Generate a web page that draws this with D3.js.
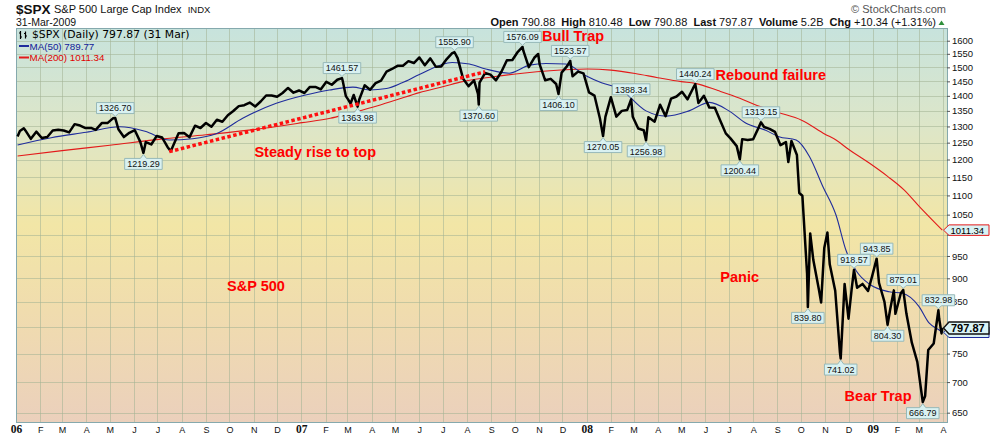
<!DOCTYPE html>
<html>
<head>
<meta charset="utf-8">
<title>$SPX S&amp;P 500 Large Cap Index</title>
<script src="https://cdn.jsdelivr.net/npm/d3@7/dist/d3.min.js"></script>
<style>
  html, body { margin: 0; padding: 0; background: #fff; }
  svg { display: block; }
  text { font-family: "Liberation Sans", Arial, sans-serif; }
</style>
</head>
<body>
<div id="chart"></div>
<script>
'use strict';

// weekly closes plus the marked turning points
var spx = [
  ['2006-01-03',1268.80],['2006-01-06',1285.45],['2006-01-11',1294.18],['2006-01-13',1287.61],
  ['2006-01-20',1261.49],['2006-01-27',1283.72],['2006-02-03',1264.03],['2006-02-10',1266.99],
  ['2006-02-17',1287.24],['2006-02-24',1289.43],['2006-03-03',1287.23],['2006-03-10',1281.42],
  ['2006-03-17',1307.25],['2006-03-24',1302.95],['2006-03-31',1294.83],['2006-04-07',1295.50],
  ['2006-04-13',1289.12],['2006-04-21',1311.28],['2006-04-28',1310.61],['2006-05-05',1325.76],
  ['2006-05-08',1326.70],['2006-05-12',1291.24],['2006-05-19',1267.03],['2006-05-26',1280.16],
  ['2006-06-02',1288.22],['2006-06-09',1252.30],['2006-06-13',1219.29],['2006-06-16',1251.54],
  ['2006-06-23',1244.50],['2006-06-30',1270.20],['2006-07-07',1265.48],['2006-07-14',1236.20],
  ['2006-07-18',1224.54],['2006-07-21',1240.29],['2006-07-28',1278.55],['2006-08-04',1279.36],
  ['2006-08-11',1266.74],['2006-08-18',1302.30],['2006-08-25',1295.09],['2006-09-01',1311.01],
  ['2006-09-08',1298.92],['2006-09-15',1321.18],['2006-09-22',1314.78],['2006-09-29',1335.85],
  ['2006-10-06',1349.59],['2006-10-13',1365.62],['2006-10-20',1368.60],['2006-10-27',1377.34],
  ['2006-11-03',1364.30],['2006-11-10',1380.90],['2006-11-17',1401.20],['2006-11-24',1400.95],
  ['2006-12-01',1396.71],['2006-12-08',1409.84],['2006-12-15',1427.09],['2006-12-22',1410.76],
  ['2006-12-29',1418.30],
  ['2007-01-05',1409.71],['2007-01-12',1430.73],['2007-01-19',1430.50],['2007-01-26',1422.18],
  ['2007-02-02',1448.39],['2007-02-09',1438.06],['2007-02-16',1455.54],['2007-02-22',1461.57],
  ['2007-02-23',1451.19],['2007-02-27',1399.04],['2007-03-02',1387.17],['2007-03-05',1374.12],
  ['2007-03-09',1402.84],['2007-03-14',1363.98],['2007-03-16',1386.95],['2007-03-23',1436.11],
  ['2007-03-30',1420.86],['2007-04-06',1443.76],['2007-04-13',1452.85],['2007-04-20',1484.35],
  ['2007-04-27',1494.07],['2007-05-04',1505.62],['2007-05-11',1505.85],['2007-05-18',1522.75],
  ['2007-05-25',1515.73],['2007-06-01',1536.34],['2007-06-08',1507.67],['2007-06-15',1532.91],
  ['2007-06-22',1502.56],['2007-06-29',1503.35],['2007-07-06',1530.44],['2007-07-13',1552.50],
  ['2007-07-16',1555.90],['2007-07-20',1534.10],['2007-07-27',1458.95],['2007-08-03',1433.06],
  ['2007-08-10',1453.64],['2007-08-15',1406.70],['2007-08-16',1370.60],['2007-08-17',1445.94],
  ['2007-08-24',1479.37],['2007-08-31',1473.99],['2007-09-07',1453.55],['2007-09-14',1484.25],
  ['2007-09-21',1525.75],['2007-09-28',1526.75],['2007-10-05',1557.59],['2007-10-11',1576.09],
  ['2007-10-12',1561.80],['2007-10-19',1500.63],['2007-10-26',1535.28],['2007-10-31',1549.38],
  ['2007-11-02',1509.65],['2007-11-09',1453.70],['2007-11-16',1458.74],['2007-11-23',1440.70],
  ['2007-11-26',1406.10],['2007-11-30',1481.14],['2007-12-07',1504.66],['2007-12-11',1523.57],
  ['2007-12-14',1467.95],['2007-12-21',1484.46],['2007-12-28',1478.49],
  ['2008-01-04',1411.63],['2008-01-11',1401.02],['2008-01-18',1325.19],['2008-01-22',1270.05],
  ['2008-01-25',1330.61],['2008-02-01',1395.42],['2008-02-08',1331.29],['2008-02-15',1349.99],
  ['2008-02-22',1353.11],['2008-02-27',1388.34],['2008-02-29',1330.63],['2008-03-07',1293.37],
  ['2008-03-14',1288.14],['2008-03-17',1256.98],['2008-03-20',1329.51],['2008-03-28',1315.22],
  ['2008-04-04',1370.40],['2008-04-11',1332.83],['2008-04-18',1390.33],['2008-04-25',1397.84],
  ['2008-05-02',1413.90],['2008-05-09',1388.28],['2008-05-16',1425.35],['2008-05-19',1440.24],
  ['2008-05-23',1375.93],['2008-05-30',1400.38],['2008-06-06',1360.68],['2008-06-13',1360.03],
  ['2008-06-20',1317.93],['2008-06-27',1278.38],['2008-07-03',1262.90],['2008-07-11',1239.49],
  ['2008-07-15',1200.44],['2008-07-18',1260.68],['2008-07-25',1257.76],['2008-08-01',1260.31],
  ['2008-08-08',1296.32],['2008-08-11',1313.15],['2008-08-15',1298.20],['2008-08-22',1292.20],
  ['2008-08-29',1282.83],['2008-09-05',1242.31],['2008-09-12',1251.70],['2008-09-15',1192.70],
  ['2008-09-19',1255.08],['2008-09-26',1213.27],['2008-09-29',1106.42],['2008-10-03',1099.23],
  ['2008-10-09',909.92],['2008-10-10',839.80],['2008-10-13',1003.35],['2008-10-17',940.55],
  ['2008-10-24',876.77],['2008-10-27',848.92],['2008-10-31',968.75],['2008-11-04',1005.75],
  ['2008-11-07',930.99],['2008-11-14',873.29],['2008-11-20',752.44],['2008-11-21',741.02],
  ['2008-11-26',887.68],['2008-12-01',816.21],['2008-12-05',876.07],['2008-12-08',918.57],
  ['2008-12-12',879.73],['2008-12-19',887.88],['2008-12-26',872.80],['2008-12-31',903.25],
  ['2009-01-06',943.85],['2009-01-09',890.35],['2009-01-16',850.12],['2009-01-20',804.30],
  ['2009-01-23',831.95],['2009-01-28',874.09],['2009-01-30',825.88],['2009-02-06',868.60],
  ['2009-02-09',875.01],['2009-02-13',826.84],['2009-02-20',770.05],['2009-02-27',735.09],
  ['2009-03-06',666.79],['2009-03-09',676.53],['2009-03-13',756.55],['2009-03-20',768.54],
  ['2009-03-26',832.98],['2009-03-27',815.94],['2009-03-30',787.53],['2009-03-31',797.87]
];

// moving averages sampled off the chart
var ma50 = [
  ['2006-01-03',1243],['2006-02-15',1265],['2006-04-01',1282],['2006-05-14',1299],
  ['2006-06-15',1285],['2006-07-16',1258],['2006-08-15',1262],['2006-09-14',1277],
  ['2006-10-18',1326],['2006-11-30',1375],['2007-01-05',1402],['2007-02-06',1420],
  ['2007-03-08',1430],['2007-03-29',1420],['2007-04-20',1425],['2007-05-10',1445],
  ['2007-06-01',1474],['2007-07-13',1518],['2007-08-04',1512],['2007-08-25',1494],
  ['2007-09-24',1479],['2007-10-20',1508],['2007-11-10',1514],['2007-12-05',1512],
  ['2007-12-31',1470],['2008-01-20',1445],['2008-02-12',1425],['2008-03-17',1350],
  ['2008-04-12',1333],['2008-05-11',1350],['2008-06-06',1378],['2008-07-01',1350],
  ['2008-07-23',1310],['2008-08-17',1288],['2008-09-03',1268],['2008-09-25',1258],
  ['2008-10-12',1209],['2008-10-29',1125],['2008-11-15',1049],['2008-11-28',962],
  ['2008-12-11',916],['2008-12-28',887],['2009-01-22',871],['2009-02-08',868],
  ['2009-03-01',841],['2009-03-14',808],['2009-03-26',795],['2009-03-31',789.77]
];

var ma200 = [
  ['2006-01-03',1210],['2006-03-01',1226],['2006-05-01',1242],['2006-07-03',1260],
  ['2006-09-01',1274],['2006-11-01',1290],['2007-01-02',1312],['2007-02-07',1326],
  ['2007-03-01',1340],['2007-04-02',1362],['2007-05-01',1385],['2007-06-01',1411],
  ['2007-07-02',1432],['2007-07-26',1449],['2007-09-04',1466],['2007-10-11',1479],
  ['2007-11-15',1488],['2008-01-02',1494],['2008-02-01',1490],['2008-03-03',1478],
  ['2008-04-01',1463],['2008-05-01',1449],['2008-05-19',1443],['2008-06-17',1418],
  ['2008-07-15',1392],['2008-08-06',1368],['2008-09-02',1345],['2008-10-02',1320],
  ['2008-11-01',1276],['2008-11-15',1258],['2008-12-01',1230],['2008-12-28',1189],
  ['2009-01-20',1152],['2009-02-10',1115],['2009-03-02',1070],['2009-03-31',1011.34]
];

// hand drawn trend line
var trendLine = [['2006-07-16',1223],['2007-08-24',1484]];

var extremes = [
  ['2006-05-08',1326.70,'high'],['2006-06-13',1219.29,'low'],
  ['2007-02-22',1461.57,'high'],['2007-03-14',1363.98,'low'],
  ['2007-07-16',1555.90,'high'],['2007-08-16',1370.60,'low'],
  ['2007-10-11',1576.09,'high'],['2007-11-26',1406.10,'low'],
  ['2007-12-11',1523.57,'high'],['2008-01-22',1270.05,'low'],
  ['2008-02-27',1388.34,'high'],['2008-03-17',1256.98,'low'],
  ['2008-05-19',1440.24,'high'],['2008-07-15',1200.44,'low'],
  ['2008-08-11',1313.15,'high'],['2008-10-10',839.80,'low'],
  ['2008-11-21',741.02,'low'],['2008-12-08',918.57,'high'],
  ['2009-01-06',943.85,'high'],['2009-01-20',804.30,'low'],
  ['2009-02-09',875.01,'high'],['2009-03-06',666.79,'low'],
  ['2009-03-26',832.98,'high']
];

// red comments, anchored at date / price of their left baseline
var notes = [
  ['Bull Trap','2007-11-05',1600],
  ['Rebound failure','2008-06-14',1455],
  ['Steady rise to top','2006-11-02',1206],
  ['S&P 500','2006-09-28',872],
  ['Panic','2008-06-20',892],
  ['Bear Trap','2008-11-26',668]
];

var yTicks = [650,700,750,800,850,900,950,1000,1050,1100,1150,1200,1250,1300,1350,1400,1450,1500,1550,1600];
var monthLetters = ['J','F','M','A','M','J','J','A','S','O','N','D'];
var yearLabels = ['06','07','08','09'];

var quote = [['Open','790.88'],['High','810.48'],['Low','790.88'],['Last','797.87'],['Volume','5.2B'],['Chg','+10.34 (+1.31%)']];
var lastClose = 797.87, lastMa50 = 789.77, lastMa200 = 1011.34;

var parse = d3.timeParse('%Y-%m-%d')
  , W = 990
  , H = 438
  , plot = {left: 16, right: 947, top: 28, bottom: 422}
  , SANS = '"Liberation Sans", Arial, sans-serif'
;

var svg = d3.select('#chart').append('svg')
    .attr('width', W)
    .attr('height', H);

var x = d3.scaleTime()
    .domain([new Date(2006, 0, 1), new Date(2009, 3, 6)])
    .range([plot.left, plot.right]);

var y = d3.scaleLog()
    .domain([635.5, 1650])
    .range([plot.bottom, plot.top]);

function toPoints(arr) {
  return arr.map(function (d) { return {date: parse(d[0]), value: d[1]}; });
}

// background gradient
var defs = svg.append('defs');
var grad = defs.append('linearGradient')
    .attr('id', 'bg')
    .attr('x1', 0).attr('y1', 0).attr('x2', 0).attr('y2', 1);
[[0, '#c7e3dd'], [0.25, '#dde6c8'], [0.5, '#f2e6a6'], [0.72, '#f0dcae'], [1, '#ebd0bc']].forEach(function (s) {
  grad.append('stop').attr('offset', s[0]).attr('stop-color', s[1]);
});
defs.append('clipPath').attr('id', 'clip')
  .append('rect')
    .attr('x', plot.left).attr('y', plot.top)
    .attr('width', plot.right - plot.left).attr('height', plot.bottom - plot.top);

svg.append('rect')
    .attr('x', plot.left).attr('y', plot.top)
    .attr('width', plot.right - plot.left).attr('height', plot.bottom - plot.top)
    .attr('fill', 'url(#bg)');

// grid
var months = d3.timeMonth.range(new Date(2006, 0, 1), new Date(2009, 3, 2));
var grid = svg.append('g')
    .attr('stroke', '#a3b393')
    .attr('stroke-opacity', 0.55)
    .attr('shape-rendering', 'crispEdges');

grid.selectAll('line.v')
    .data(months.slice(1))
    .enter().append('line')
    .attr('x1', function (d) { return Math.round(x(d)) + 0.5; })
    .attr('x2', function (d) { return Math.round(x(d)) + 0.5; })
    .attr('y1', plot.top).attr('y2', plot.bottom);

grid.selectAll('line.h')
    .data(yTicks)
    .enter().append('line')
    .attr('x1', plot.left).attr('x2', plot.right)
    .attr('y1', function (d) { return Math.round(y(d)) + 0.5; })
    .attr('y2', function (d) { return Math.round(y(d)) + 0.5; });

svg.append('rect')
    .attr('x', plot.left + 0.5).attr('y', plot.top + 0.5)
    .attr('width', plot.right - plot.left).attr('height', plot.bottom - plot.top)
    .attr('fill', 'none')
    .attr('stroke', '#85a9ad')
    .attr('shape-rendering', 'crispEdges');

// axes
var xAxis = d3.axisBottom(x)
    .tickValues(months)
    .tickSize(0)
    .tickFormat(function (d) {
      return d.getMonth() === 0 ? yearLabels[d.getFullYear() - 2006] : monthLetters[d.getMonth()];
    });

var gx = svg.append('g')
    .attr('transform', 'translate(0,' + plot.bottom + ')')
    .call(xAxis);
gx.select('.domain').remove();
gx.selectAll('text')
    .attr('y', 11)
    .attr('dy', null)
    .attr('fill', '#111')
    .style('font-family', function (d) { return d.getMonth() === 0 ? '"Liberation Serif", "Times New Roman", serif' : SANS; })
    .style('font-weight', function (d) { return d.getMonth() === 0 ? 'bold' : 'normal'; })
    .style('font-size', function (d) { return d.getMonth() === 0 ? '11.5px' : '9px'; });

// labels that sit under the price-axis flags are hidden in the original
var flagged = [lastClose, lastMa200];
var yAxis = d3.axisRight(y)
    .tickValues(yTicks)
    .tickSize(3)
    .tickPadding(2)
    .tickFormat(function (d) {
      var hidden = flagged.some(function (f) { return Math.abs(y(f) - y(d)) < 7; });
      return hidden ? '' : d3.format('d')(d);
    });

var gy = svg.append('g')
    .attr('transform', 'translate(' + plot.right + ',0)')
    .call(yAxis);
gy.select('.domain').remove();
gy.selectAll('line').attr('stroke', '#555');
gy.selectAll('text')
    .attr('fill', '#111')
    .style('font-family', SANS)
    .style('font-size', '9.5px');

// series
var line = d3.line()
    .x(function (d) { return x(d.date); })
    .y(function (d) { return y(d.value); });

var smooth = d3.line()
    .curve(d3.curveMonotoneX)
    .x(function (d) { return x(d.date); })
    .y(function (d) { return y(d.value); });

var series = svg.append('g').attr('clip-path', 'url(#clip)');

series.append('path')
    .datum(toPoints(ma200))
    .attr('d', smooth)
    .attr('fill', 'none')
    .attr('stroke', '#e31a1a')
    .attr('stroke-width', 1.1);

series.append('path')
    .datum(toPoints(ma50))
    .attr('d', smooth)
    .attr('fill', 'none')
    .attr('stroke', '#1f2c9c')
    .attr('stroke-width', 1.1);

series.append('path')
    .datum(toPoints(spx))
    .attr('d', line)
    .attr('fill', 'none')
    .attr('stroke', '#000')
    .attr('stroke-width', 2.5)
    .attr('stroke-linejoin', 'round');

series.append('path')
    .datum(toPoints(trendLine))
    .attr('d', line)
    .attr('fill', 'none')
    .attr('stroke', '#ff1010')
    .attr('stroke-width', 3.5)
    .attr('stroke-dasharray', '3.5,2.5');

// value flags above highs / below lows
var flags = svg.append('g');
extremes.forEach(function (e) {
  var cx = x(parse(e[0]))
    , vy = y(e[1])
    , up = e[2] === 'high'
    , g = flags.append('g')
    , t = g.append('text')
        .text(e[1].toFixed(2))
        .attr('text-anchor', 'middle')
        .attr('x', cx)
        .attr('fill', '#111')
        .style('font-size', '9px')
    , w = t.node().getComputedTextLength() + 5
    , top = up ? vy - 15.5 : vy + 5.5
    , bot = top + 11
    , tip = up ? vy - 1.5 : vy + 1.5
    , path
  ;
  if (up) {
    path = 'M' + (cx - w / 2) + ',' + top + 'H' + (cx + w / 2) + 'V' + bot +
      'H' + (cx + 3) + 'L' + cx + ',' + tip + 'L' + (cx - 3) + ',' + bot + 'H' + (cx - w / 2) + 'Z';
  } else {
    path = 'M' + (cx - w / 2) + ',' + top + 'H' + (cx - 3) + 'L' + cx + ',' + tip + 'L' + (cx + 3) + ',' + top +
      'H' + (cx + w / 2) + 'V' + bot + 'H' + (cx - w / 2) + 'Z';
  }
  g.insert('path', 'text')
      .attr('d', path)
      .attr('fill', '#d9f1f1')
      .attr('stroke', '#97b9b9')
      .attr('stroke-width', 1);
  t.attr('y', bot - 2.3);
});

// flags on the price axis
function axisFlag(value, label, stroke, bold) {
  var vy = y(value)
    , h = bold ? 12 : 10.5
    , g = svg.append('g');
  g.append('path')
      .attr('d', 'M943.5,' + vy + 'L949,' + (vy - h / 2) + 'H989V' + (vy + h / 2) + 'H949Z')
      .attr('fill', '#d9f3f5')
      .attr('stroke', stroke)
      .attr('stroke-width', bold ? 1.4 : 1);
  if (label) {
    g.append('text')
        .text(label)
        .attr('x', bold ? 951 : 950.5)
        .attr('y', vy + (bold ? 4 : 3.4))
        .attr('fill', '#000')
        .style('font-size', bold ? '11px' : '9.5px')
        .style('font-weight', bold ? 'bold' : 'normal');
  }
}
axisFlag(lastMa200, lastMa200.toFixed(2), '#e31a1a', false);
// the MA(50) flag sits almost fully behind the last-price flag
axisFlag(lastMa50, null, '#1f2c9c', false);
axisFlag(lastClose, lastClose.toFixed(2), '#111', true);

// red comments
svg.append('g').selectAll('text')
    .data(notes)
    .enter().append('text')
    .text(function (d) { return d[0]; })
    .attr('x', function (d) { return x(parse(d[1])); })
    .attr('y', function (d) { return y(d[2]); })
    .attr('fill', '#ff0000')
    .style('font-size', '14.5px')
    .style('font-weight', 'bold');

// legend inside the plot
var legend = svg.append('g');
legend.append('path')
    .attr('d', 'M20.5,31V39M19,33H20.5M20.5,37H22M25.5,31.5V38.5M24,33.5H25.5M25.5,36H27')
    .attr('stroke', '#000')
    .attr('stroke-width', 1.2)
    .attr('fill', 'none');
legend.append('text')
    .text('$SPX (Daily) ' + lastClose.toFixed(2) + ' (31 Mar)')
    .attr('x', 32).attr('y', 38)
    .attr('fill', '#000')
    .style('font-family', '"DejaVu Sans", Verdana, sans-serif')
    .style('font-size', '10.8px');
[['MA(50) ' + lastMa50.toFixed(2), '#1f2c9c', '#10209a', 49.5],
 ['MA(200) ' + lastMa200.toFixed(2), '#e31a1a', '#e00000', 61]].forEach(function (r) {
  legend.append('line')
      .attr('x1', 19).attr('x2', 29)
      .attr('y1', r[3] - 3.5).attr('y2', r[3] - 3.5)
      .attr('stroke', r[1])
      .attr('stroke-width', 2);
  legend.append('text')
      .text(r[0])
      .attr('x', 29.5).attr('y', r[3])
      .attr('fill', r[2])
      .style('font-size', '9.8px');
});

// header
svg.append('text')
    .text('$SPX')
    .attr('x', 16).attr('y', 13.5)
    .attr('fill', '#111')
    .style('font-size', '13.5px')
    .style('font-weight', 'bold');
var titleText = svg.append('text')
    .text('S&P 500 Large Cap Index')
    .attr('x', 54).attr('y', 13)
    .attr('fill', '#111')
    .style('font-size', '11px');
svg.append('text')
    .text('INDX')
    .attr('x', 54 + titleText.node().getComputedTextLength() + 6).attr('y', 13)
    .attr('fill', '#111')
    .style('font-size', '9.5px');
svg.append('text')
    .text('31-Mar-2009')
    .attr('x', 16).attr('y', 25.5)
    .attr('fill', '#111')
    .style('font-size', '10.5px');
svg.append('text')
    .text('\u00a9 StockCharts.com')
    .attr('x', 946).attr('y', 13)
    .attr('text-anchor', 'end')
    .attr('fill', '#555')
    .style('font-size', '11px');

var q = svg.append('text')
    .attr('x', 936).attr('y', 26)
    .attr('text-anchor', 'end')
    .attr('fill', '#111')
    .style('font-size', '11px')
    .attr('xml:space', 'preserve');
quote.forEach(function (p, i) {
  q.append('tspan').text((i ? '  ' : '') + p[0]).style('font-weight', 'bold');
  q.append('tspan').text(' ' + p[1]);
});
svg.append('path')
    .attr('d', 'M938.5,25L944.5,25L941.5,20.5Z')
    .attr('fill', '#2f8f3a');
</script>
</body>
</html>
